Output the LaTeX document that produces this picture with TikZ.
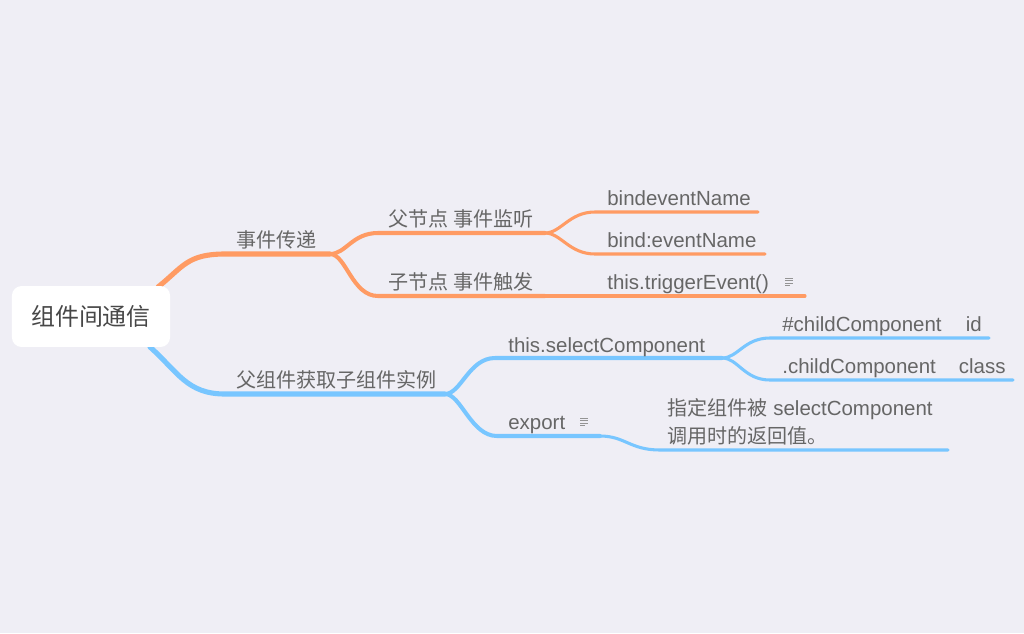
\documentclass[tikz,border=0pt]{standalone}
\usepackage{fontspec}
\setmainfont{Liberation Sans}
\newfontfamily\cjk[Scale=0.98]{Noto Sans CJK SC}
\definecolor{pagebg}{HTML}{EFEEF5}
\definecolor{warm}{HTML}{FF9B63}
\definecolor{cool}{HTML}{78C6FF}
\definecolor{labeltext}{HTML}{666666}
\tikzset{
    mainline/.style={line width=2.9pt,line cap=round},
    subline/.style={line width=2.3pt,line cap=round},
    leafline/.style={line width=1.75pt,line cap=round},
    branchlabel/.style={anchor=base west,inner sep=0pt,text=labeltext,font=\fontsize{11.65pt}{14pt}\selectfont},
    rootbox/.style={fill=white,rounded corners=5.5pt,minimum width=90pt,minimum height=34.7pt,inner sep=0pt,text=black!72,font=\cjk\fontsize{13.9pt}{16pt}\selectfont}
}
\newcommand{\noteicon}[2]{%
    \foreach \k/\w in {0/8,1/8,2/8,3/5}
        \draw[labeltext!70,line width=0.5pt] (#1,#2-3.6+2.4*\k) -- ++(\w,0);
}
\begin{document}
\begin{tikzpicture}[x=0.02cm,y=-0.02cm]
    \fill[pagebg] (0,0) rectangle (1024,633);
    \useasboundingbox (0,0) rectangle (1024,633);

    \coordinate (rootup) at (158,287);
    \coordinate (rootdown) at (150,347);
    \coordinate (eventa) at (225,254);
    \coordinate (eventb) at (330,254);
    \coordinate (parenta) at (378,233);
    \coordinate (parentb) at (545,233);
    \coordinate (childa) at (378,296);
    \coordinate (childb) at (545,296);
    \coordinate (binda) at (595,212);
    \coordinate (bindb) at (758,212);
    \coordinate (colona) at (595,254);
    \coordinate (colonb) at (765,254);
    \coordinate (triggerb) at (805,296);
    \coordinate (fetcha) at (225,394);
    \coordinate (fetchb) at (445,394);
    \coordinate (selecta) at (495,358);
    \coordinate (selectb) at (722,358);
    \coordinate (exporta) at (497,436);
    \coordinate (exportb) at (600,436);
    \coordinate (valuea) at (660,450);
    \coordinate (valueb) at (948,450);
    \coordinate (ida) at (770,338);
    \coordinate (idb) at (989,338);
    \coordinate (classa) at (770,380);
    \coordinate (classb) at (1013,380);

    \draw[warm,mainline] (rootup) .. controls +(25,-20) and +(-38,0) .. (eventa) -- (eventb);
    \draw[warm,subline] (eventb) .. controls +(16,0) and +(-26,0) .. (parenta) -- (parentb);
    \draw[warm,subline] (eventb) .. controls +(16,0) and +(-26,0) .. (childa) -- (childb);
    \draw[warm,leafline] (parentb) .. controls +(16,0) and +(-26,0) .. (binda) -- (bindb);
    \draw[warm,leafline] (parentb) .. controls +(16,0) and +(-26,0) .. (colona) -- (colonb);
    \draw[warm,leafline] (childb) -- (triggerb);

    \draw[cool,mainline] (rootdown) .. controls +(28,25) and +(-38,0) .. (fetcha) -- (fetchb);
    \draw[cool,subline] (fetchb) .. controls +(16,0) and +(-26,0) .. (selecta) -- (selectb);
    \draw[cool,subline] (fetchb) .. controls +(16,0) and +(-26,0) .. (exporta) -- (exportb);
    \draw[cool,leafline] (exportb) .. controls +(25,0) and +(-30,0) .. (valuea) -- (valueb);
    \draw[cool,leafline] (selectb) .. controls +(16,0) and +(-26,0) .. (ida) -- (idb);
    \draw[cool,leafline] (selectb) .. controls +(16,0) and +(-26,0) .. (classa) -- (classb);

    \node[rootbox] (root) at (91,316.5) {组件间通信};

    \node[branchlabel] (event) at (236,247.5) {\cjk 事件传递};
    \node[branchlabel] (parent) at (388,226.5) {\cjk 父节点 事件监听};
    \node[branchlabel] (child) at (388,289.5) {\cjk 子节点 事件触发};
    \node[branchlabel] (bind) at (607,205) {bindeventName};
    \node[branchlabel] (colon) at (607,247) {bind:eventName};
    \node[branchlabel] (trigger) at (607,289) {this.triggerEvent()};
    \noteicon{785}{282}

    \node[branchlabel] (fetch) at (236,387.5) {\cjk 父组件获取子组件实例};
    \node[branchlabel] (select) at (508,352) {this.selectComponent};
    \node[branchlabel] (export) at (508,429) {export};
    \noteicon{580}{422}
    \node[branchlabel] (id) at (782,331) {\#childComponent\hspace{1.18em}id};
    \node[branchlabel] (class) at (782,373) {.childComponent\hspace{1.12em}class};
    \node[branchlabel] (valueone) at (667,415) {{\cjk 指定组件被} selectComponent};
    \node[branchlabel] (valuetwo) at (667,443) {\cjk 调用时的返回值。};
\end{tikzpicture}
\end{document}
